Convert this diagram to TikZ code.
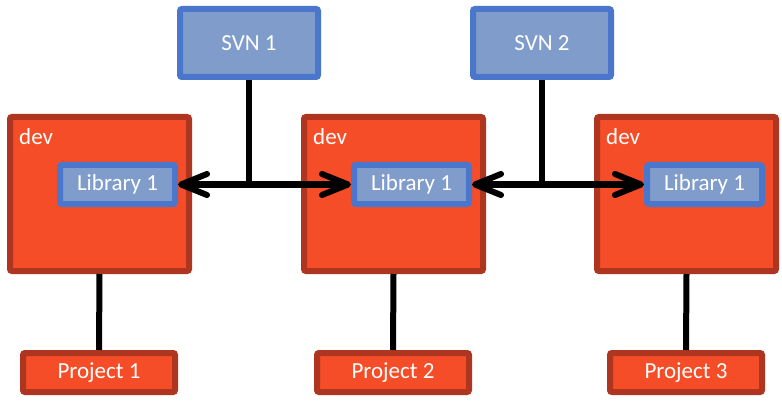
\documentclass[tikz,border=0pt]{standalone}
\usepackage{fontspec}
\setmainfont{Carlito}
\usetikzlibrary{arrows.meta, positioning, calc}
\definecolor{devfill}{HTML}{F44D27}
\definecolor{devline}{HTML}{AE3620}
\definecolor{svnfill}{HTML}{7F9CCB}
\definecolor{svnline}{HTML}{4A77CB}
\tikzset{
    box/.style={line width=6pt, rounded corners=2pt, text=white, inner sep=0pt,
        font=\fontsize{23}{27}\selectfont},
    svnbox/.style={box, draw=svnline, fill=svnfill, minimum width=138pt, minimum height=68pt},
    libbox/.style={box, draw=svnline, fill=svnfill, minimum width=115pt, minimum height=39pt},
    devbox/.style={box, draw=devline, fill=devfill, minimum width=179pt, minimum height=154pt},
    projbox/.style={box, draw=devline, fill=devfill, minimum width=152pt, minimum height=39pt},
    devlabel/.style={anchor=north west, inner sep=0pt, text=white, font=\fontsize{23}{27}\selectfont},
    link/.style={line width=6pt},
    sync/.style={line width=6pt, {Straight Barb[length=26pt, width=21pt, line cap=round, line join=round]}-{Straight Barb[length=26pt, width=21pt, line cap=round, line join=round]}}
}

\begin{document}
\begin{tikzpicture}[x=1pt, y=-1pt]
    \useasboundingbox (0, 0) rectangle (782, 401);

    % repositories
    \node[svnbox] (svn1) at (249, 43) {SVN 1};
    \node[svnbox] (svn2) at (542, 43) {SVN 2};

    % dev boxes, each holding a copy of the library
    \foreach \i/\x in {1/99.5, 2/393.5, 3/686.5} {
        \node[devbox] (dev\i) at (\x, 194) {};
        \node[devlabel] at ([shift={(12, 14)}]dev\i.north west) {dev};
        \node[libbox] (lib\i) at (\x + 18, 184.5) {Library 1};
    }

    % projects
    \node[projbox] (proj1) at (99, 372.5) {Project 1};
    \node[projbox] (proj2) at (393, 372.5) {Project 2};
    \node[projbox] (proj3) at (686, 372.5) {Project 3};

    \draw[sync] (lib1.east) -- (lib2.west);
    \draw[sync] (lib2.east) -- (lib3.west);
    \draw[link] (svn1.south) -- (svn1.south |- lib1.east);
    \draw[link] (svn2.south) -- (svn2.south |- lib2.east);

    \foreach \i in {1, 2, 3}
        \draw[link] (dev\i.south) -- (proj\i.north);
\end{tikzpicture}
\end{document}
